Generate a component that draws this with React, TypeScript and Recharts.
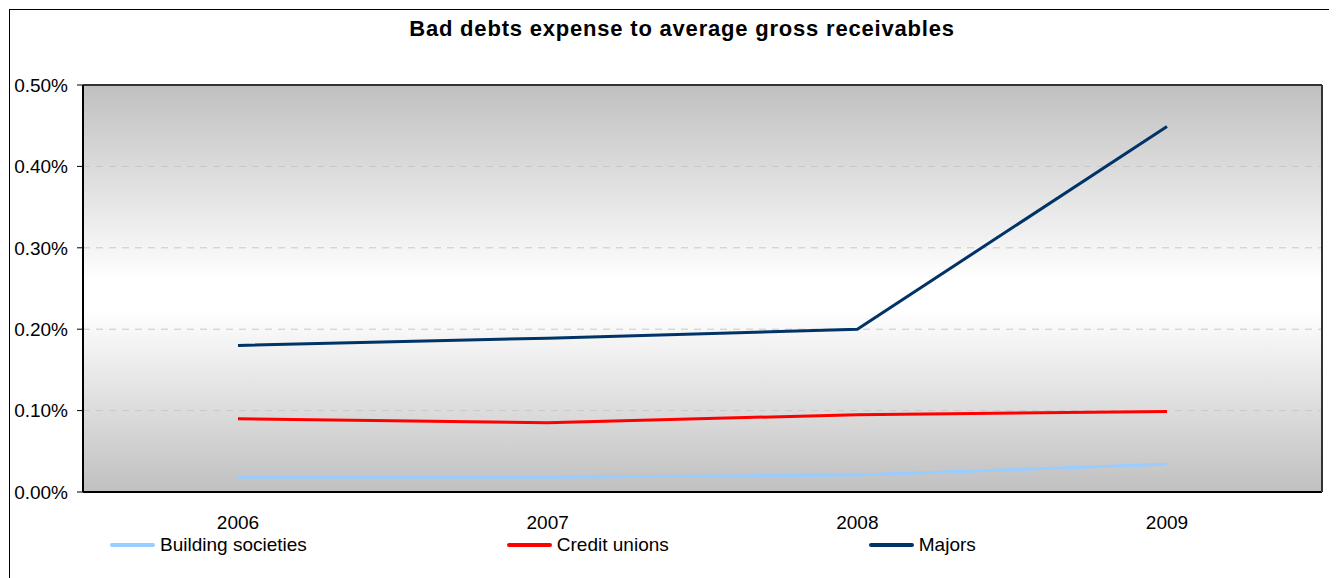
import React from 'react'
import { LineChart, Line, XAxis, YAxis, CartesianGrid, Legend } from 'recharts'

const years = ['2006', '2007', '2008', '2009']
const buildingSocieties = [0.018, 0.018, 0.021, 0.034]
const creditUnions = [0.09, 0.085, 0.095, 0.099]
const majors = [0.18, 0.189, 0.2, 0.449]
const yTicks = [0, 0.1, 0.2, 0.3, 0.4, 0.5]
const boundaryTicks = [0, 1, 2, 3, 4]

const series = [
  { key: 'building', name: 'Building societies', color: '#99ccff' },
  { key: 'credit', name: 'Credit unions', color: '#ff0000' },
  { key: 'majors', name: 'Majors', color: '#003366' },
]

const data = years.map((year, i) => ({
  year,
  building: buildingSocieties[i],
  credit: creditUnions[i],
  majors: majors[i],
}))

const font = '"Liberation Sans", Arial, sans-serif'

const LegendContent = () => (
  <div style={{ display: 'flex', height: 20, alignItems: 'center', fontFamily: font, fontSize: 19, color: '#000' }}>
    {series.map((s) => (
      <div key={s.key} style={{ display: 'flex', alignItems: 'center', marginRight: 200 }}>
        <div style={{ width: 45, height: 4, borderRadius: 2, background: s.color, marginRight: 5 }} />
        <span>{s.name}</span>
      </div>
    ))}
  </div>
)

export default function App() {
  return (
    <div style={{ position: 'relative', width: 1329, height: 570, overflow: 'hidden', background: '#fff' }}>
      <div
        style={{
          position: 'absolute', left: 1, top: 1, width: 1400, height: 700,
          border: '1px solid #000', boxSizing: 'border-box',
        }}
      />
      <div
        style={{
          position: 'absolute', left: 0, top: 8, width: 1348, textAlign: 'center',
          fontFamily: font, fontSize: 22, fontWeight: 'bold', letterSpacing: 0.8,
        }}
      >
        Bad debts expense to average gross receivables
      </div>
      <div style={{ position: 'absolute', left: 0, top: 0 }}>
        <LineChart width={1329} height={570} data={data} margin={{ top: 76, right: 14, left: 0, bottom: 35 }}>
          <defs>
            <linearGradient id="plotBg" x1="0" y1="0" x2="0" y2="1">
              <stop offset="0%" stopColor="#c0c0c0" />
              <stop offset="48%" stopColor="#ffffff" />
              <stop offset="55%" stopColor="#ffffff" />
              <stop offset="100%" stopColor="#c0c0c0" />
            </linearGradient>
          </defs>
          <CartesianGrid xAxisId="cat" vertical={false} fill="url(#plotBg)" fillOpacity={1} stroke="#c8c8c8" strokeDasharray="7 6" />
          <XAxis
            xAxisId="bnd"
            type="number"
            domain={[0, 4]}
            ticks={boundaryTicks}
            height={1}
            tick={false}
            tickSize={6}
            tickLine={{ stroke: '#000' }}
            axisLine={{ stroke: '#000', strokeWidth: 2 }}
          />
          <XAxis
            xAxisId="cat"
            dataKey="year"
            height={30}
            padding={{ left: 155, right: 155 }}
            tickLine={false}
            axisLine={false}
            tickMargin={17}
            tick={{ fill: '#000', fontSize: 19, fontFamily: font }}
          />
          <XAxis xAxisId="top" orientation="top" height={1} tick={false} tickLine={false} axisLine={{ stroke: '#333', strokeWidth: 2 }} />
          <YAxis
            domain={[0, 0.5]}
            ticks={yTicks}
            width={75}
            tickSize={6}
            tickMargin={9}
            tickFormatter={(v: number) => `${v.toFixed(2)}%`}
            tick={{ fill: '#000', fontSize: 19, fontFamily: font }}
            tickLine={{ stroke: '#000' }}
            axisLine={{ stroke: '#000', strokeWidth: 2 }}
          />
          <YAxis yAxisId="r" orientation="right" width={1} tick={false} tickLine={false} axisLine={{ stroke: '#333', strokeWidth: 2 }} />
          {series.map((s) => (
            <Line
              key={s.key}
              xAxisId="cat"
              type="linear"
              dataKey={s.key}
              name={s.name}
              stroke={s.color}
              strokeWidth={3}
              dot={false}
              activeDot={false}
              isAnimationActive={false}
            />
          ))}
          <Legend
            verticalAlign="bottom"
            content={<LegendContent />}
            wrapperStyle={{ position: 'absolute', left: 102, top: 527, width: 'auto' }}
          />
        </LineChart>
      </div>
    </div>
  )
}
